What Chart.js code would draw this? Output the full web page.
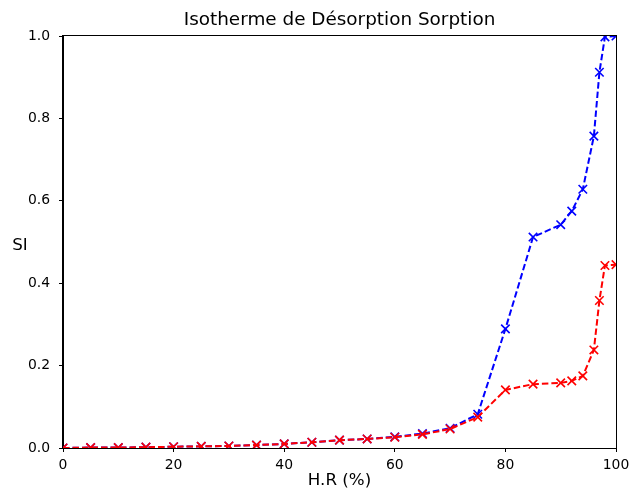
<!DOCTYPE html>
<html>
<head>
<meta charset="utf-8">
<script src="https://cdn.jsdelivr.net/npm/chart.js@4"></script>
<style>
  html, body { margin: 0; padding: 0; background: #fff; }
  #wrap { width: 629px; height: 493px; }
</style>
</head>
<body>
<div id="wrap"><canvas id="chart-isotherme"></canvas></div>
<script>
const humidite = [0, 5, 10, 15, 20, 25, 30, 35, 40, 45, 50, 55, 60, 65, 70, 75, 80, 85, 90, 92, 94, 96, 97, 98, 100];
const desorption = [0, 0.001, 0.001, 0.002, 0.003, 0.004, 0.005, 0.007, 0.010, 0.014, 0.019, 0.022, 0.027, 0.035, 0.048, 0.082, 0.289, 0.512, 0.542, 0.575, 0.628, 0.757, 0.912, 0.998, 1.0];
const sorption = [0, 0.001, 0.001, 0.002, 0.003, 0.004, 0.005, 0.007, 0.010, 0.014, 0.019, 0.022, 0.026, 0.033, 0.046, 0.075, 0.141, 0.155, 0.158, 0.163, 0.175, 0.238, 0.358, 0.443, 0.445];

const titre = 'Isotherme de Désorption Sorption';
const labelX = 'H.R (%)';
const labelY = 'SI';

function points(ys) {
  return humidite.map((x, i) => ({ x: x, y: ys[i] }));
}

const police = 'DejaVu Sans';

// cadre autour de la zone, titre centré sur les axes, label Y horizontal
const cadre = {
  id: 'cadre',
  afterDatasetsDraw(chart) {
    const { ctx, chartArea: a } = chart;
    ctx.save();
    ctx.strokeStyle = '#000';
    ctx.lineWidth = 1;
    ctx.strokeRect(Math.round(a.left) - 0.5, Math.round(a.top) - 0.5, Math.round(a.right - a.left) + 1, Math.round(a.bottom - a.top) + 1);
    ctx.fillStyle = '#000';
    ctx.textAlign = 'center';
    ctx.textBaseline = 'middle';
    ctx.font = '16.7px "' + police + '"';
    ctx.fillText(labelY, 20, (a.top + a.bottom) / 2 + 4);
    ctx.font = '18.4px "' + police + '"';
    ctx.fillText(titre, (a.left + a.right) / 2, 20);
    ctx.restore();
  }
};

const data = {
  datasets: [{
    label: 'Désorption',
    data: points(desorption),
    borderColor: '#0000ff',
    backgroundColor: '#0000ff',
    borderWidth: 2,
    borderDash: [6.5, 3],
    pointStyle: 'crossRot',
    pointRadius: 6,
    pointBorderWidth: 1.6,
    showLine: true,
    order: 2
  },
  {
    label: 'Sorption',
    data: points(sorption),
    borderColor: '#ff0000',
    backgroundColor: '#ff0000',
    borderWidth: 2,
    borderDash: [6.5, 3],
    pointStyle: 'crossRot',
    pointRadius: 6,
    pointBorderWidth: 1.6,
    showLine: true,
    order: 1
  }]
};

const config = {
  type: 'scatter',
  data: data,
  plugins: [cadre],
  options: {
    responsive: true,
    maintainAspectRatio: false,
    animation: false,
    layout: { padding: { left: 0, right: 0, top: 36, bottom: 0 } },
    plugins: {
      legend: { display: false },
      tooltip: { enabled: false },
      title: { display: false }
    },
    scales: {
      x: {
        type: 'linear',
        min: 0,
        max: 100,
        afterFit: (s) => { s.height = 45; s.paddingLeft = 0; s.paddingRight = 13; },
        border: { color: '#000', width: 1 },
        grid: { drawOnChartArea: false, drawTicks: true, tickLength: 4, color: '#000' },
        ticks: { stepSize: 20, color: '#000', padding: 5, font: { family: police, size: 13.9 }, maxRotation: 0 },
        title: { display: true, text: labelX, color: '#000', font: { family: police, size: 16.7, lineHeight: 1.2 }, padding: { top: 0, bottom: 2 } }
      },
      y: {
        type: 'linear',
        min: 0,
        max: 1,
        afterFit: (s) => { s.width = 63; },
        border: { color: '#000', width: 1 },
        grid: { drawOnChartArea: false, drawTicks: true, tickLength: 4, color: '#000' },
        ticks: { stepSize: 0.2, color: '#000', padding: 9, font: { family: police, size: 13.9 }, callback: (v) => v.toFixed(1) }
      }
    }
  }
};

const chartIsotherme = new Chart(document.getElementById('chart-isotherme'), config);
</script>
</body>
</html>
